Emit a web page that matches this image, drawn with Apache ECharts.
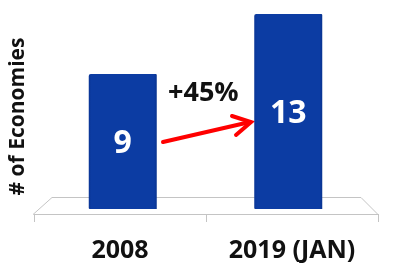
<!DOCTYPE html>
<html>
<head>
<meta charset="utf-8">
<script src="https://cdn.jsdelivr.net/npm/echarts@6/dist/echarts.min.js"></script>
<style>
html, body { margin: 0; padding: 0; background: #fff; }
#main { width: 396px; height: 263px; }
</style>
</head>
<body>
<div id="main"></div>
<script>
// data
var categories = ['2008', '2019 (JAN)'];
var values = [9, 13];
var changeText = '+45%';
var yName = '# of Economies';

var chart = echarts.init(document.getElementById('main'));

var barColor = new echarts.graphic.LinearGradient(0, 0, 1, 0, [
    { offset: 0, color: '#0a3596' },
    { offset: 0.04, color: '#0c3ca3' },
    { offset: 0.96, color: '#0c3ca3' },
    { offset: 1, color: '#08338f' }
]);

var option = {
    animation: false,
    grid: [
        { left: 40, right: 25, top: 14, bottom: 54 },   // bars
        { left: 33, right: 18, top: 19, bottom: 48 }    // floor front edge
    ],
    xAxis: [{
        type: 'category', gridIndex: 0, data: categories,
        axisLine: { show: false }, axisTick: { show: false }, axisLabel: { show: false }
    }, {
        type: 'category', gridIndex: 1, data: categories,
        axisLine: { lineStyle: { color: '#c4c4c4', width: 1 } },
        axisTick: { show: true, length: 8, lineStyle: { color: '#c4c4c4' } },
        axisLabel: {
            margin: 24,
            fontFamily: 'Open Sans', fontWeight: 'bold', fontSize: 25, color: '#111'
        }
    }],
    yAxis: [{
        type: 'value', gridIndex: 0, min: 0, max: 13,
        show: false
    }, {
        type: 'value', gridIndex: 1, min: 0, max: 13,
        axisLine: { show: false }, axisTick: { show: false },
        axisLabel: { show: false }, splitLine: { show: false },
        name: yName, nameLocation: 'middle', nameRotate: 90, nameGap: 5,
        nameTextStyle: { fontFamily: 'Open Sans', fontWeight: 'bold', fontSize: 21, color: '#111' }
    }],
    series: [{
        type: 'bar',
        xAxisIndex: 0, yAxisIndex: 0,
        data: values,
        barWidth: 68,
        itemStyle: { color: barColor, borderRadius: [2, 1, 0, 1] },
        label: {
            show: true, position: 'inside', offset: [0, 2],
            fontFamily: 'Open Sans', fontWeight: 'bold', fontSize: 32, color: '#fff'
        }
    }],
    graphic: [
        // floor back/side edges
        {
            type: 'polyline', z: -1,
            shape: { points: [[33, 214.5], [52, 197.5], [361, 197.5], [378, 214.5]] },
            style: { stroke: '#c4c4c4', lineWidth: 1, fill: null }
        },
        // change label
        {
            type: 'text', left: 168, top: 80,
            style: { text: changeText, fontFamily: 'Open Sans', fontWeight: 'bold', fontSize: 27, fill: '#111' }
        },
        // red arrow
        {
            type: 'line',
            shape: { x1: 163, y1: 142, x2: 250, y2: 122 },
            style: { stroke: '#f00', lineWidth: 4, lineCap: 'round' }
        },
        {
            type: 'polyline',
            shape: { points: [[232, 116], [251, 122], [236, 135]] },
            style: { stroke: '#f00', lineWidth: 4, lineCap: 'round', lineJoin: 'miter', fill: null }
        }
    ]
};
chart.setOption(option);
</script>
</body>
</html>
